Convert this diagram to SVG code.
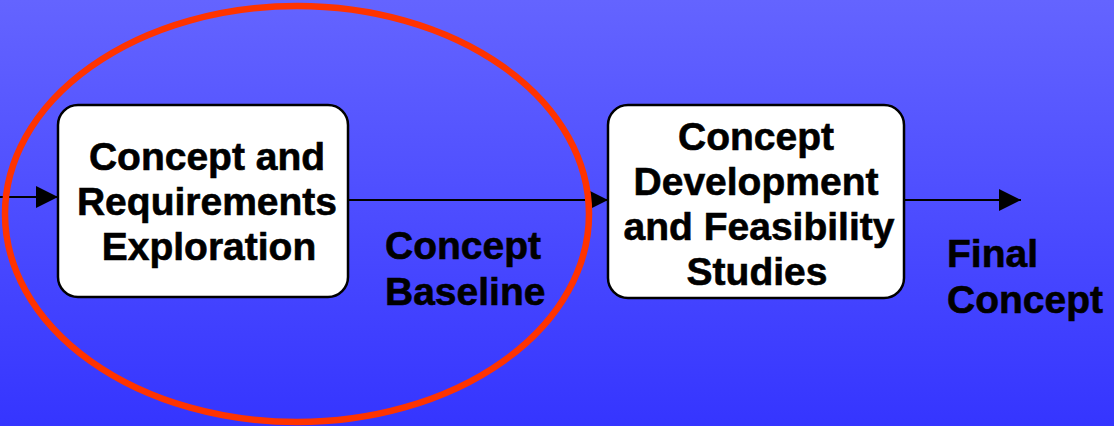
<svg xmlns="http://www.w3.org/2000/svg" width="1114" height="426" viewBox="0 0 1114 426">
<defs>
<linearGradient id="bg" x1="0" y1="0" x2="0" y2="1">
<stop offset="0" stop-color="#6464ff"/>
<stop offset="1" stop-color="#3535ff"/>
</linearGradient>
<marker id="ah" markerWidth="22" markerHeight="22" viewBox="0 0 22 22" refX="22" refY="11" markerUnits="userSpaceOnUse" orient="auto">
<path d="M0,0 L22,11 L0,22 Z" fill="#000"/>
</marker>
<style>
.box{fill:#fff;stroke:#000;stroke-width:2.5}
.t{font-family:"Liberation Sans",Arial,sans-serif;font-weight:bold;font-size:39px;fill:#000;stroke:#000;stroke-width:0.6}
.c{text-anchor:middle}
.ln{stroke:#000;stroke-width:2;fill:none}
</style>
</defs>
<rect x="0" y="0" width="1114" height="426" fill="url(#bg)"/>
<g id="connectors">
<line class="ln" x1="0" y1="197" x2="58" y2="197" marker-end="url(#ah)"/>
<line class="ln" x1="348" y1="200" x2="608" y2="200" marker-end="url(#ah)"/>
<line class="ln" x1="904" y1="200" x2="1021" y2="200" marker-end="url(#ah)"/>
</g>
<g id="node1">
<rect class="box" x="58" y="105" width="290" height="192" rx="20" ry="20"/>
<text class="t c" x="207" y="170">Concept and</text>
<text class="t c" x="207" y="215">Requirements</text>
<text class="t c" x="209" y="260">Exploration</text>
</g>
<g id="node2">
<rect class="box" x="608" y="105" width="296" height="193" rx="20" ry="20"/>
<text class="t c" x="756" y="150">Concept</text>
<text class="t c" x="756" y="195">Development</text>
<text class="t c" x="759" y="240">and Feasibility</text>
<text class="t c" x="757" y="285">Studies</text>
</g>
<g id="label-baseline">
<text class="t" x="385" y="259">Concept</text>
<text class="t" x="385" y="305">Baseline</text>
</g>
<g id="label-final">
<text class="t" x="947" y="267">Final</text>
<text class="t" x="947" y="313">Concept</text>
</g>
<g id="highlight">
<ellipse cx="297" cy="214" rx="292" ry="208" fill="none" stroke="#ff3300" stroke-width="6.5"/>
</g>
</svg>
